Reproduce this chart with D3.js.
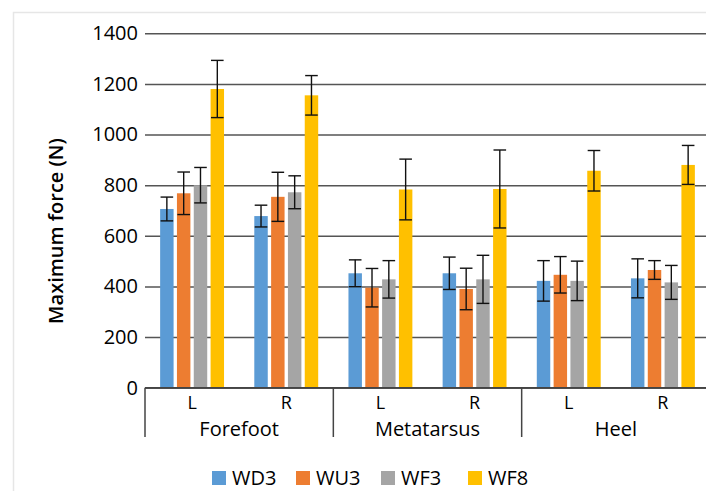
<!DOCTYPE html>
<html>
<head>
<meta charset="utf-8">
<script src="https://cdnjs.cloudflare.com/ajax/libs/d3/7.8.5/d3.min.js"></script>
<style>
  body { margin: 0; background: #fff; }
  text { font-family: "Open Sans", sans-serif; fill: #000; }
</style>
</head>
<body>
<svg id="chart" width="706" height="491"></svg>
<script>
const regions = ["Forefoot", "Metatarsus", "Heel"];
const sides = ["L", "R"];
const seriesNames = ["WD3", "WU3", "WF3", "WF8"];
const colors = ["#5B9BD5", "#ED7D31", "#A5A5A5", "#FFC000"];
const yTicks = [0, 200, 400, 600, 800, 1000, 1200, 1400];

// means, one array per series, order: Forefoot L/R, Metatarsus L/R, Heel L/R
const wd3 = [706, 678, 452, 452, 422, 432];
const wu3 = [768, 754, 395, 390, 446, 465];
const wf3 = [800, 772, 428, 428, 422, 416];
const wf8 = [1180, 1155, 783, 785, 857, 880];
// error bar half-lengths
const wd3Err = [47, 43, 53, 64, 80, 77];
const wu3Err = [84, 97, 76, 82, 72, 37];
const wf3Err = [70, 65, 74, 95, 78, 67];
const wf8Err = [113, 78, 120, 154, 80, 77];

const means = [wd3, wu3, wf3, wf8];
const errs = [wd3Err, wu3Err, wf3Err, wf8Err];

const rows = [];
regions.forEach((r, ri) => sides.forEach((s, si) => {
  seriesNames.forEach((name, k) => {
    const i = ri * 2 + si;
    rows.push({region: r, side: s, series: name, value: means[k][i], err: errs[k][i], color: colors[k]});
  });
}));

const svg = d3.select("#chart");

// light frame of the original figure
svg.append("rect")
  .attr("x", 13.5).attr("y", 12.5)
  .attr("width", 720).attr("height", 500)
  .attr("fill", "none").attr("stroke", "#e6e6e6").attr("stroke-width", 1.5);

const plotLeft = 145, plotRight = 710, plotTop = 33.3, base = 387.7;

const y = d3.scaleLinear().domain([0, 1400]).range([base, plotTop]);
const x0 = d3.scaleBand().domain(regions).range([plotLeft, plotRight]);
const x1 = d3.scaleBand().domain(sides).range([0, x0.bandwidth()]);
const x2 = d3.scaleBand().domain(seriesNames).range([0, x1.bandwidth()])
  .paddingInner(0.2).paddingOuter(0.9);

// gridlines + y labels
const yAxis = svg.append("g")
  .attr("transform", `translate(${plotLeft},0)`)
  .call(d3.axisLeft(y).tickValues(yTicks).tickFormat(d3.format("d"))
    .tickSize(-(plotRight - plotLeft)).tickPadding(7));
yAxis.select(".domain").remove();
yAxis.selectAll(".tick line").attr("stroke", "#555").attr("stroke-width", 1.4);
yAxis.selectAll(".tick text")
  .attr("font-size", 20).attr("font-family", "Open Sans, sans-serif").attr("fill", "#000");

// bars
const bx = d => x0(d.region) + x1(d.side) + x2(d.series);
svg.append("g").selectAll("rect")
  .data(rows).enter().append("rect")
  .attr("x", bx)
  .attr("y", d => y(d.value))
  .attr("width", x2.bandwidth())
  .attr("height", d => base - y(d.value))
  .attr("fill", d => d.color);

// error bars
const eb = svg.append("g").attr("stroke", "#111").attr("stroke-width", 1.4);
rows.forEach(d => {
  const cx = bx(d) + x2.bandwidth() / 2;
  const y1 = y(d.value + d.err), y2 = y(d.value - d.err);
  eb.append("line").attr("x1", cx).attr("x2", cx).attr("y1", y1).attr("y2", y2);
  eb.append("line").attr("x1", cx - 6.3).attr("x2", cx + 6.3).attr("y1", y1).attr("y2", y1);
  eb.append("line").attr("x1", cx - 6.3).attr("x2", cx + 6.3).attr("y1", y2).attr("y2", y2);
});

// baseline
svg.append("line")
  .attr("x1", plotLeft).attr("x2", plotRight).attr("y1", base).attr("y2", base)
  .attr("stroke", "#444").attr("stroke-width", 1.5);

// category separators
const sep = svg.append("g").attr("stroke", "#444").attr("stroke-width", 1.5);
regions.forEach(r => {
  sep.append("line").attr("x1", x0(r)).attr("x2", x0(r)).attr("y1", base).attr("y2", 437);
});

// side labels
const labels = svg.append("g").attr("text-anchor", "middle");
regions.forEach(r => sides.forEach(s => {
  labels.append("text")
    .attr("x", x0(r) + x1(s) + x1.bandwidth() / 2)
    .attr("y", 409)
    .attr("font-size", 18)
    .text(s);
}));
regions.forEach(r => {
  labels.append("text")
    .attr("x", x0(r) + x0.bandwidth() / 2)
    .attr("y", 436)
    .attr("font-size", 20)
    .text(r);
});

// y axis title
svg.append("text")
  .attr("transform", "translate(63,231) rotate(-90)")
  .attr("text-anchor", "middle")
  .attr("font-size", 20)
  .attr("font-weight", 600)
  .text("Maximum force (N)");

// legend
const legendX = [212, 296, 381, 468];
const legend = svg.append("g");
seriesNames.forEach((name, k) => {
  legend.append("rect")
    .attr("x", legendX[k]).attr("y", 471)
    .attr("width", 14).attr("height", 14)
    .attr("fill", colors[k]);
  legend.append("text")
    .attr("x", legendX[k] + 20).attr("y", 485)
    .attr("font-size", 20)
    .text(name);
});
</script>
</body>
</html>
